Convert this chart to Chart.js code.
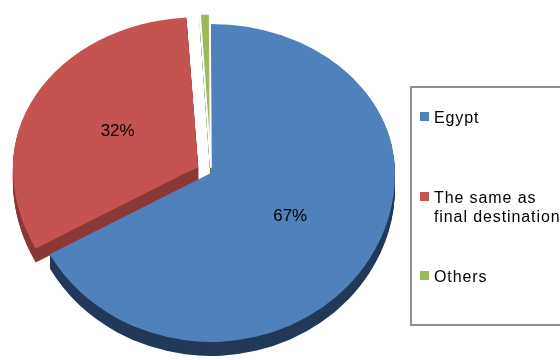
<!DOCTYPE html>
<html>
<head>
<meta charset="utf-8">
<script src="https://cdn.jsdelivr.net/npm/chart.js@4.4.1/dist/chart.umd.min.js"></script>
<style>
  html, body { margin: 0; padding: 0; width: 560px; height: 360px; overflow: hidden; background: #fff; }
  #wrap { position: relative; width: 560px; height: 360px; }
  #pie { position: absolute; left: 0; top: 0; }
  #legend {
    position: absolute; left: 410px; top: 86px; width: 180px; height: 240px;
    border: 2px solid #8f8f8f; box-sizing: border-box;
    font: 16px "Liberation Sans", Arial, sans-serif; letter-spacing: 0.9px; color: #000;
  }
  .item { position: absolute; left: 8px; display: flex; align-items: flex-start; line-height: 19px; white-space: nowrap; }
  .sw { width: 9px; height: 9px; margin-top: 4px; margin-right: 5px; flex: none; }
</style>
</head>
<body>
<div id="wrap">
  <canvas id="pie" width="560" height="360"></canvas>
  <div id="legend"></div>
</div>
<script>
// Destination breakdown
const categories = ['Egypt', ['The same as', 'final destination'], 'Others'];
const shares = [67, 32, 1];

// Slice styling
const topColors  = ['#4f81bd', '#c5534f', '#9bbb59'];
const sideColors = ['#22395a', '#8a3a38', '#5b7630'];
const explode    = [0, 58, 26];

// Tilted-disc look: vertical squash behind / in front of the centre, and rim depth
const TILT_BACK = 0.81;
const TILT_FRONT = 0.918;
const DEPTH = 14;

function paintArc(ctx, el, override, cy, dy) {
  let target = el;
  if (override) {
    target = Object.create(el);
    target.options = Object.assign({}, el.options, override);
  }
  [[TILT_BACK, -10000, cy], [TILT_FRONT, cy, 10000]].forEach(([k, y0, y1]) => {
    ctx.save();
    ctx.beginPath();
    ctx.rect(-100, y0 + dy, 10000, y1 - y0);
    ctx.clip();
    ctx.translate(0, cy + dy);
    ctx.scale(1, k);
    ctx.translate(0, -cy);
    target.draw(ctx);
    ctx.restore();
  });
}

function project(y, cy) {
  return cy + (y - cy) * (y < cy ? TILT_BACK : TILT_FRONT);
}

const pie3d = {
  id: 'pie3d',
  beforeDatasetsDraw(chart) {
    const ctx = chart.ctx;
    const arcs = chart.getDatasetMeta(0).data;
    const cy = arcs[0].y;
    // rim first, stacked downward
    for (let d = DEPTH; d >= 1; d--) {
      arcs.forEach((el, i) => paintArc(ctx, el, { backgroundColor: sideColors[i], borderWidth: 0 }, cy, d));
    }
    // top faces
    arcs.forEach(el => paintArc(ctx, el, null, cy, 0));
    return false;
  },
  afterDraw(chart) {
    const ctx = chart.ctx;
    const arcs = chart.getDatasetMeta(0).data;
    const cy = arcs[0].y;
    const total = shares.reduce((a, b) => a + b, 0);
    ctx.save();
    ctx.font = '17px "Liberation Sans", Arial, sans-serif';
    ctx.fillStyle = '#000';
    ctx.textAlign = 'center';
    ctx.textBaseline = 'middle';
    arcs.forEach((el, i) => {
      const pct = Math.round(shares[i] / total * 100);
      if (pct < 2) return;
      const half = (el.startAngle + el.endAngle) / 2;
      const r = el.outerRadius * 0.5 + (el.options.offset || 0) / 4;
      const x = el.x + Math.cos(half) * r;
      const y = project(el.y + Math.sin(half) * r, cy);
      ctx.fillText(pct + '%', x, y);
    });
    ctx.restore();
  }
};

new Chart(document.getElementById('pie'), {
  type: 'pie',
  data: {
    labels: categories,
    datasets: [{
      data: shares,
      backgroundColor: topColors,
      borderColor: '#ffffff',
      borderWidth: [0, 0, 2],
      offset: explode
    }]
  },
  options: {
    responsive: false,
    animation: false,
    radius: 184,
    layout: { padding: { left: 0, top: 0, right: 138, bottom: 14 } },
    plugins: { legend: { display: false }, tooltip: { enabled: false } },
    events: []
  },
  plugins: [pie3d]
});

// Legend box
const legendTops = [20, 100, 179];
const legendEl = document.getElementById('legend');
categories.forEach((label, i) => {
  const item = document.createElement('div');
  item.className = 'item';
  item.style.top = legendTops[i] + 'px';
  const sw = document.createElement('span');
  sw.className = 'sw';
  sw.style.background = topColors[i];
  const txt = document.createElement('span');
  txt.innerHTML = (Array.isArray(label) ? label : [label]).join('<br>');
  item.appendChild(sw);
  item.appendChild(txt);
  legendEl.appendChild(item);
});
</script>
</body>
</html>
